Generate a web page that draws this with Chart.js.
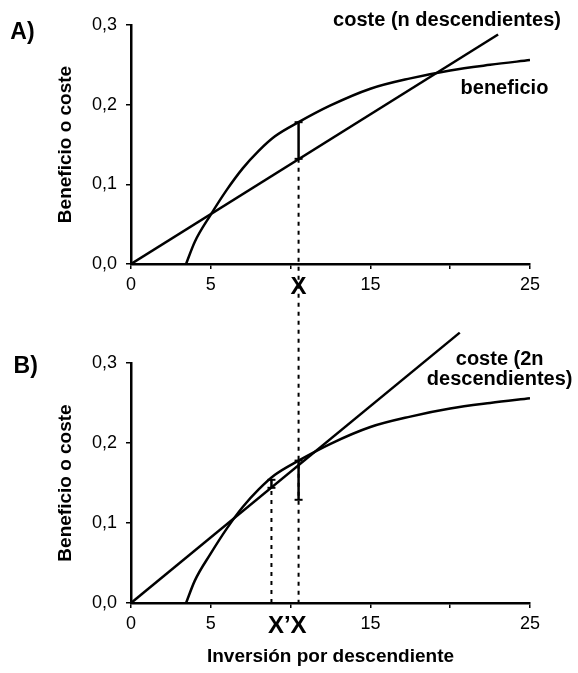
<!DOCTYPE html>
<html lang="es">
<head>
<meta charset="UTF-8">
<title>Beneficio o coste</title>
<script src="https://cdn.jsdelivr.net/npm/chart.js"></script>
<style>
  body { margin: 0; background: #fff; }
  .wrap { position: relative; width: 578px; height: 673px; }
  .wrap canvas { position: absolute; left: 0; top: 0; }
</style>
</head>
<body>
<div class="wrap">
  <canvas id="chartA" width="578" height="673"></canvas>
  <canvas id="chartB" width="578" height="673"></canvas>
</div>
<script>
// curva de beneficio (la misma en A y B)
const benX = [3.45, 4, 5, 6, 7, 8, 9, 10.5, 12.5, 15, 17.5, 20, 22.5, 25];
const benY = [0, 0.028, 0.062, 0.093, 0.12, 0.142, 0.16, 0.178, 0.199, 0.22, 0.233, 0.243, 0.25, 0.256];
// rectas de coste
const costAX = [0, 23];
const costAY = [0, 0.288];
const costBX = [0, 20.6];
const costBY = [0, 0.338];
// inversiones X y X'
const invX = 10.5;
const invX2 = 8.8;
const segAY = [0.132, 0.178];
const segBY = [0.129, 0.178];
const segB2Y = [0.144, 0.154];
// ejes
const xTicks = [0, 5, 10, 15, 20, 25];
const xTickLabels = ['0', '5', '', '15', '', '25'];
const yTicks = [0, 0.1, 0.2, 0.3];
const yTickLabels = ['0,0', '0,1', '0,2', '0,3'];

const FONT = "'Liberation Sans', Arial, sans-serif";
Chart.defaults.font.family = FONT;
Chart.defaults.color = '#000';

const pts = (xs, ys) => xs.map((x, i) => ({ x, y: ys[i] }));
const vline = (x, ys) => ys.map(y => ({ x, y }));

function lineDs(data, extra) {
    return Object.assign({
        data, borderColor: '#000', borderWidth: 2.5, pointRadius: 0, fill: false
    }, extra || {});
}

function makeScales(xHeight, xTitle) {
    return {
        x: {
            type: 'linear', min: 0, max: 25,
            afterBuildTicks: s => { s.ticks = xTicks.map(v => ({ value: v })); },
            ticks: { callback: (v, i) => xTickLabels[i], font: { size: 18 }, padding: 5, maxRotation: 0, autoSkip: false },
            grid: { drawOnChartArea: false, color: '#000', lineWidth: 1.5, tickLength: 5 },
            border: { color: '#000', width: 2.5 },
            title: xTitle ? { display: true, text: xTitle, font: { size: 19, weight: 'bold' }, padding: { top: 0, bottom: 5 } } : { display: false },
            afterFit: s => { s.height = xHeight; }
        },
        y: {
            type: 'linear', min: 0, max: 0.3,
            afterBuildTicks: s => { s.ticks = yTicks.map(v => ({ value: v })); },
            ticks: { callback: (v, i) => yTickLabels[i], font: { size: 18 }, padding: 9 },
            grid: { drawOnChartArea: false, color: '#000', lineWidth: 1.5, tickLength: 5 },
            border: { color: '#000', width: 2.5 },
            title: { display: true, text: 'Beneficio o coste', font: { size: 19, weight: 'bold' }, padding: { top: 54, bottom: 0 } },
            afterFit: s => { s.width = 131; }
        }
    };
}

function text(ctx, str, x, y, size, align) {
    ctx.font = 'bold ' + size + 'px ' + FONT;
    ctx.textAlign = align || 'center';
    ctx.textBaseline = 'middle';
    ctx.fillStyle = '#000';
    ctx.fillText(str, x, y);
}

const labelsA = {
    id: 'labelsA',
    afterDraw(chart) {
        const { ctx, scales: { x, y } } = chart;
        ctx.save();
        text(ctx, 'A)', x.getPixelForValue(-6.8), y.getPixelForValue(0.29), 23);
        text(ctx, 'coste (n descendientes)', x.getPixelForValue(19.8), y.getPixelForValue(0.306), 20);
        text(ctx, 'beneficio', x.getPixelForValue(23.4), y.getPixelForValue(0.22), 20);
        text(ctx, 'X', x.getPixelForValue(invX), y.getPixelForValue(0) + 23, 24);
        ctx.restore();
    }
};

const chartA = new Chart(document.getElementById('chartA'), {
    type: 'line',
    data: {
        datasets: [
            lineDs(pts(benX, benY), { cubicInterpolationMode: 'monotone' }),
            lineDs(pts(costAX, costAY)),
            lineDs(vline(invX, segAY), { pointRadius: 4, pointStyle: 'line', pointBorderWidth: 2, pointBorderColor: '#000' })
        ]
    },
    options: {
        responsive: false, animation: false, events: [],
        layout: { padding: { left: 0, right: 48, top: 25, bottom: 369 } },
        scales: makeScales(40, null),
        plugins: { legend: { display: false }, tooltip: { enabled: false } }
    },
    plugins: [labelsA]
});

const labelsB = {
    id: 'labelsB',
    beforeDatasetsDraw(chart) {
        // línea discontinua que une X de A con el eje de B
        const { ctx, scales: { x, y } } = chart;
        const px = x.getPixelForValue(invX);
        ctx.save();
        ctx.setLineDash([4, 5]);
        ctx.lineWidth = 2;
        ctx.strokeStyle = '#000';
        ctx.beginPath();
        ctx.moveTo(px, chartA.scales.y.getPixelForValue(segAY[0]));
        ctx.lineTo(px, y.getPixelForValue(0));
        ctx.stroke();
        ctx.restore();
    },
    afterDraw(chart) {
        const { ctx, scales: { x, y } } = chart;
        ctx.save();
        text(ctx, 'B)', x.getPixelForValue(-6.6), y.getPixelForValue(0.295), 23);
        text(ctx, 'coste (2n', x.getPixelForValue(23.1), y.getPixelForValue(0.305), 20);
        text(ctx, 'descendientes)', x.getPixelForValue(23.1), y.getPixelForValue(0.279), 20);
        const px = x.getPixelForValue(invX);
        const py = y.getPixelForValue(0) + 23;
        text(ctx, 'X', px, py, 24);
        ctx.font = 'bold 24px ' + FONT;
        const half = ctx.measureText('X').width / 2;
        text(ctx, 'X\u2019', px - half, py, 24, 'right');
        ctx.restore();
    }
};

new Chart(document.getElementById('chartB'), {
    type: 'line',
    data: {
        datasets: [
            lineDs(pts(benX, benY), { cubicInterpolationMode: 'monotone' }),
            lineDs(pts(costBX, costBY), { clip: false }),
            lineDs(vline(invX, segBY), { pointRadius: 4, pointStyle: 'line', pointBorderWidth: 2, pointBorderColor: '#000' }),
            lineDs(vline(invX2, [0, segB2Y[0]]), { borderWidth: 2, borderDash: [4, 5] }),
            lineDs(vline(invX2, segB2Y), { pointRadius: 4, pointStyle: 'line', pointBorderWidth: 2, pointBorderColor: '#000' })
        ]
    },
    options: {
        responsive: false, animation: false, events: [],
        layout: { padding: { left: 0, right: 48, top: 363, bottom: 0 } },
        scales: makeScales(70, 'Inversión por descendiente'),
        plugins: { legend: { display: false }, tooltip: { enabled: false } }
    },
    plugins: [labelsB]
});
</script>
</body>
</html>
